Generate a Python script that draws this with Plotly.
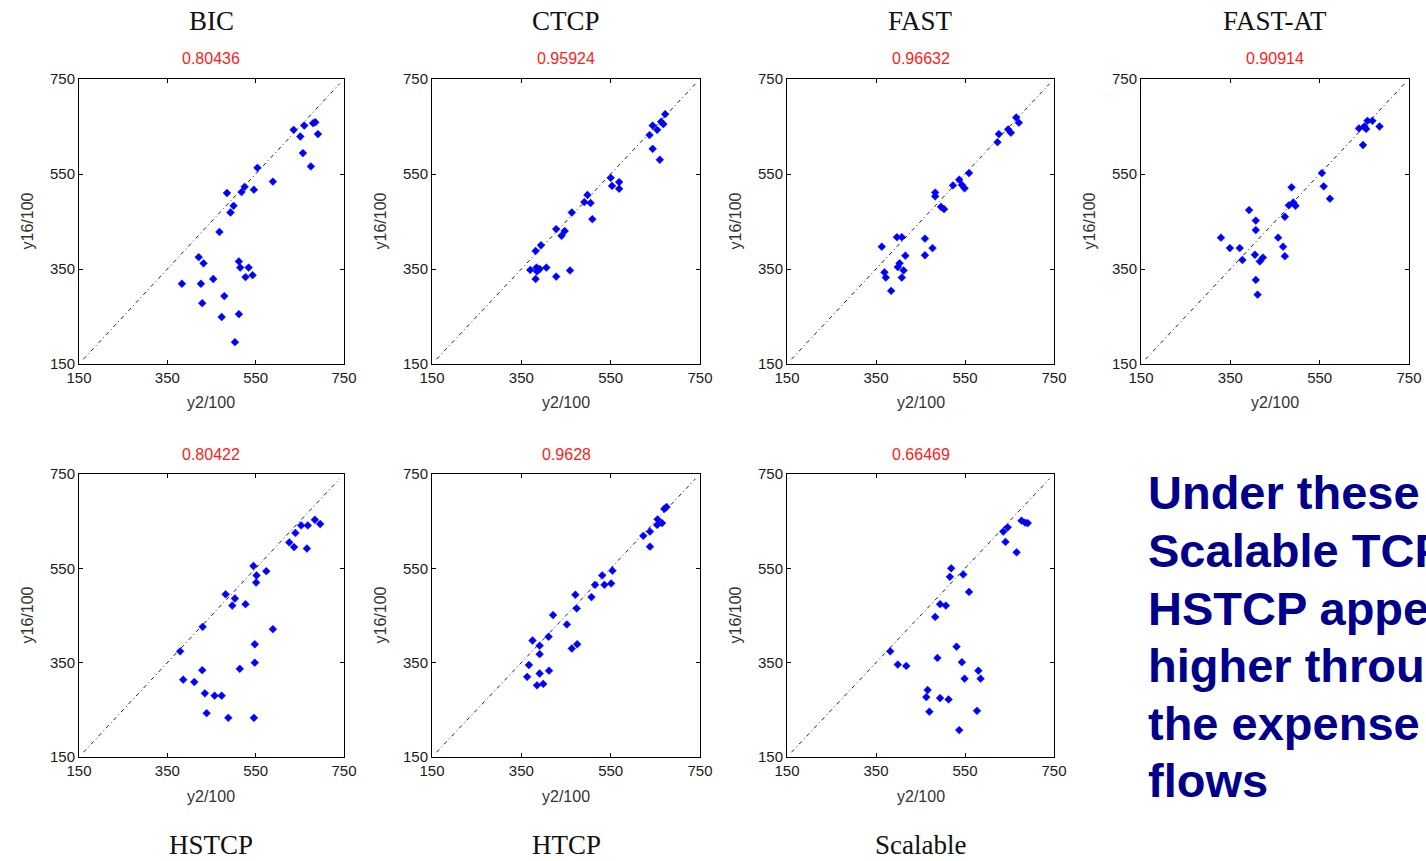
import plotly.graph_objects as go

# ---- data: per-flow throughput, y2/100 (x) vs y16/100 (y) ----
methods = ["BIC", "CTCP", "FAST", "FAST-AT", "HSTCP", "HTCP", "Scalable"]
corr_labels = ["0.80436", "0.95924", "0.96632", "0.90914", "0.80422", "0.9628", "0.66469"]

bic_x = [636, 660, 680, 685, 691, 651, 657, 675, 554, 589, 546, 525, 518, 485, 500, 493, 468,
         421, 432, 512, 515, 534, 527, 543, 454, 383, 426, 479, 429, 512, 473, 503]
bic_y = [643, 652, 657, 659, 634, 629, 594, 566, 563, 534, 517, 523, 512, 510, 483, 469, 428,
         375, 362, 366, 353, 353, 333, 337, 329, 319, 319, 293, 278, 255, 249, 196]

ctcp_x = [672, 668, 663, 654, 644, 637, 644, 660, 550, 553, 569, 569, 498, 491, 505, 509, 463,
          428, 447, 440, 394, 382, 370, 384, 385, 382, 406, 428, 459, 391]
ctcp_y = [676, 655, 660, 643, 652, 632, 603, 580, 542, 525, 533, 519, 506, 491, 489, 455, 469,
          434, 430, 420, 400, 388, 348, 353, 345, 329, 353, 334, 347, 350]

fast_x = [665, 671, 647, 653, 626, 623, 559, 537, 523, 543, 549, 483, 483, 496, 503, 397, 408,
          460, 477, 460, 363, 416, 403, 399, 412, 369, 372, 408, 384]
fast_y = [669, 658, 644, 637, 634, 617, 552, 538, 526, 527, 520, 511, 503, 481, 476, 417, 417,
          414, 394, 379, 397, 378, 362, 354, 347, 343, 332, 332, 304]

fastat_x = [657, 668, 638, 650, 654, 684, 647, 555, 559, 573, 487, 491, 481, 496, 472, 392, 407,
            407, 329, 349, 371, 377, 405, 416, 423, 457, 468, 472, 407, 411]
fastat_y = [662, 662, 646, 650, 645, 650, 611, 552, 524, 498, 522, 490, 484, 483, 460, 474, 452,
            432, 416, 394, 394, 369, 380, 366, 374, 416, 397, 377, 327, 296]

hstcp_x = [684, 696, 653, 668, 640, 626, 637, 666, 545, 552, 574, 551, 482, 503, 497, 527, 430,
           589, 548, 548, 379, 429, 514, 386, 411, 435, 457, 473, 439, 488, 546]
hstcp_y = [653, 644, 641, 641, 625, 605, 595, 592, 555, 535, 544, 520, 495, 486, 471, 474, 426,
           421, 389, 350, 374, 334, 337, 314, 309, 285, 280, 280, 243, 233, 233]

htcp_x = [675, 670, 655, 654, 665, 638, 623, 638, 554, 531, 515, 536, 551, 507, 471, 474, 421,
          452, 411, 375, 391, 391, 367, 363, 391, 412, 385, 399, 463, 475]
htcp_y = [680, 676, 654, 642, 646, 628, 619, 596, 545, 535, 515, 515, 518, 489, 494, 465, 451,
          431, 405, 397, 386, 368, 345, 320, 327, 333, 302, 305, 380, 389]

scal_x = [677, 685, 691, 646, 636, 641, 666, 519, 516, 546, 559, 494, 507, 483, 382, 399, 418,
          488, 531, 543, 580, 549, 585, 466, 463, 494, 513, 470, 577, 537]
scal_y = [651, 647, 646, 637, 628, 606, 584, 550, 532, 537, 500, 474, 471, 447, 374, 346, 343,
          360, 384, 351, 333, 316, 316, 292, 277, 275, 272, 246, 248, 207]

series_x = [bic_x, ctcp_x, fast_x, fastat_x, hstcp_x, htcp_x, scal_x]
series_y = [bic_y, ctcp_y, fast_y, fastat_y, hstcp_y, htcp_y, scal_y]

axis_ticks = [150, 350, 550, 750]
diag = [160, 740]

summary_lines = ["Under these", "Scalable TCP and", "HSTCP appear", "higher throughput",
                 "the expense of", "flows"]

# ---- page geometry (pixels) ----
W, H = 1426, 861
col_px = [(79, 344), (432, 700), (787, 1054), (1141, 1409)]
row_px = [(79, 364), (474, 757)]
cells = [(0, 0), (0, 1), (0, 2), (0, 3), (1, 0), (1, 1), (1, 2)]


def px_x(x):
    return x / W


def px_y(y):
    return 1 - y / H


fig = go.Figure()
annotations = []
layout_axes = {}

for i, (name, corr, xs, ys) in enumerate(zip(methods, corr_labels, series_x, series_y)):
    r, c = cells[i]
    x0, x1 = col_px[c]
    y0, y1 = row_px[r]
    n = "" if i == 0 else str(i + 1)
    xa, ya = "x" + n, "y" + n

    # reference diagonal y = x
    fig.add_trace(go.Scatter(
        x=diag, y=diag, mode="lines", xaxis=xa, yaxis=ya, showlegend=False,
        line=dict(color="#222222", width=1, dash="4px,3px,1px,3px"), hoverinfo="skip"))
    fig.add_trace(go.Scatter(
        x=xs, y=ys, mode="markers", xaxis=xa, yaxis=ya, showlegend=False,
        marker=dict(symbol="diamond", size=6, color="#0000ff",
                    line=dict(width=0.5, color="#0000ff"))))

    common = dict(range=[150, 750], tickvals=axis_ticks, ticks="inside", ticklen=4,
                  tickcolor="#000000", showline=True, linecolor="#000000", linewidth=1,
                  mirror="allticks", showgrid=False, zeroline=False, automargin=False,
                  tickfont=dict(family="Arial, Liberation Sans", size=15, color="#1a1a1a"))
    layout_axes["xaxis" + n] = dict(common, domain=[px_x(x0), px_x(x1)], anchor=ya)
    layout_axes["yaxis" + n] = dict(common, domain=[px_y(y1), px_y(y0)], anchor=xa)

    cx = (x0 + x1) / 2
    cy = (y0 + y1) / 2
    # correlation value above each panel
    annotations.append(dict(text=corr, x=px_x(cx), y=px_y(y0 - 20), xref="paper", yref="paper",
                            showarrow=False, xanchor="center", yanchor="middle",
                            font=dict(family="Arial, Liberation Sans", size=16, color="#ff2020")))
    # axis titles
    annotations.append(dict(text="y2/100", x=px_x(cx), y=px_y(y1 + 39), xref="paper", yref="paper",
                            showarrow=False, xanchor="center", yanchor="middle",
                            font=dict(family="Arial, Liberation Sans", size=16, color="#333333")))
    annotations.append(dict(text="y16/100", x=px_x(x0 - 52), y=px_y(cy), xref="paper", yref="paper",
                            showarrow=False, xanchor="center", yanchor="middle", textangle=-90,
                            font=dict(family="Arial, Liberation Sans", size=16, color="#333333")))
    # method name
    ty = 21 if r == 0 else 845
    annotations.append(dict(text=name, x=px_x(cx), y=px_y(ty), xref="paper", yref="paper",
                            showarrow=False, xanchor="center", yanchor="middle",
                            font=dict(family="Times New Roman, Liberation Serif", size=27,
                                      color="#111111")))

# summary text at the right
for k, line in enumerate(summary_lines):
    baseline = 509 + 57.5 * k
    annotations.append(dict(text="<b>" + line + "</b>", x=px_x(1146), y=px_y(baseline - 16),
                            xref="paper", yref="paper", showarrow=False,
                            xanchor="left", yanchor="middle",
                            font=dict(family="Arial, Liberation Sans", size=47, color="#00008b")))

fig.update_layout(
    width=W, height=H, autosize=False,
    margin=dict(l=0, r=0, t=0, b=0, pad=0, autoexpand=False),
    paper_bgcolor="white", plot_bgcolor="white",
    annotations=annotations,
    **layout_axes,
)

fig.write_html("out.html")
